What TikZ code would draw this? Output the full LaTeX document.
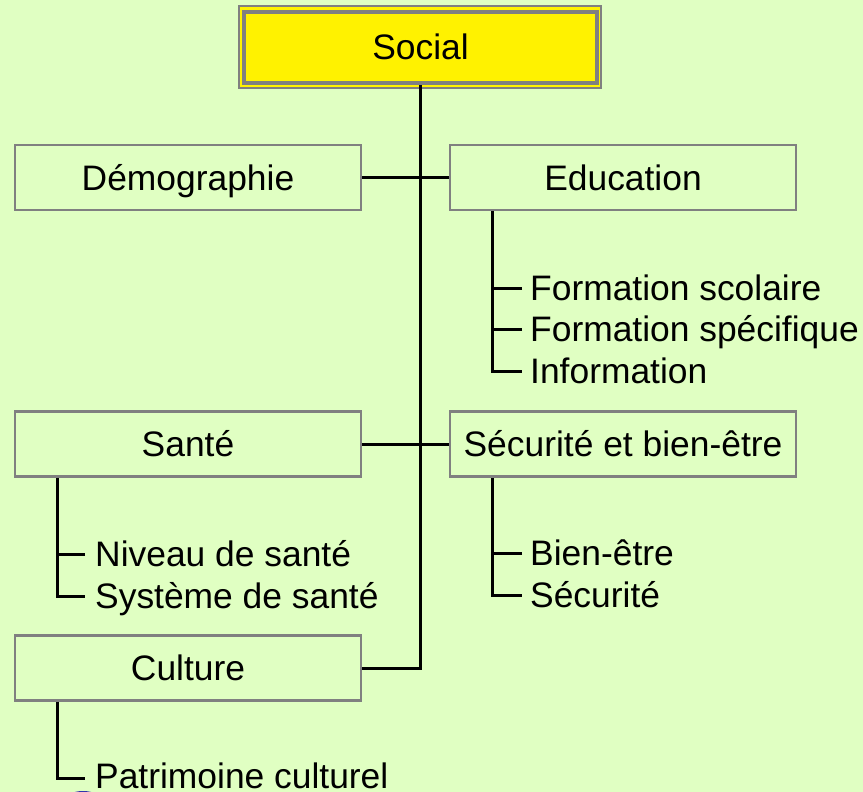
\documentclass[tikz,border=0pt]{standalone}
\usepackage{fontspec}
\setmainfont{Liberation Sans}
\definecolor{bg}{RGB}{224,255,194}
\definecolor{bord}{RGB}{128,128,128}
\newcommand\boxfont{\fontsize{35.4}{42}\selectfont}
\begin{document}
\begin{tikzpicture}[x=1pt,y=-1pt,
  box/.style={draw=bord,line width=2.5pt,minimum width=346pt,minimum height=65pt,inner sep=0pt,text height=25pt,text depth=0pt,font=\boxfont},
  item/.style={anchor=base west,inner sep=0pt,font=\boxfont},
  conn/.style={line width=3pt,black}]
\fill[bg] (0,0) rectangle (863,792);
\useasboundingbox (0,0) rectangle (863,792);
\clip (0,0) rectangle (863,792);
\fill[blue!60!black!80] (83,800) ellipse [x radius=18pt,y radius=9pt];
% root
\node[draw=bord,line width=1.5pt,fill=yellow,minimum width=362pt,minimum height=82pt,inner sep=0pt] (socout) at (420,47) {};
\node[draw=bord,line width=4.5pt,minimum width=353pt,minimum height=71pt,inner sep=0pt,text height=25pt,text depth=0pt,font=\boxfont] (social) at (420.5,47.5) {Social};
% boxes
\node[box] (demo) at (188,177.5) {Démographie};
\node[box] (edu) at (623,177.5) {Education};
\node[box] (sante) at (188,444) {Santé};
\node[box] (secu) at (623,444) {Sécurité et bien-être};
\node[box] (cult) at (188,668) {Culture};
% main connectors
\coordinate (cj) at (social.south |- cult.east);
\draw[conn] (social.south) -- (cj) -- (cult.east);
\draw[conn] (demo.east) -- (edu.west);
\draw[conn] (sante.east) -- (secu.west);
% items
\node[item] (fsc) at (530,300) {Formation scolaire};
\node[item] (fsp) at (530,341) {Formation spécifique};
\node[item] (inf) at (530,383) {Information};
\node[item] (niv) at (95,566) {Niveau de santé};
\node[item] (sys) at (95,608) {Système de santé};
\node[item] (bien) at (530,565) {Bien-être};
\node[item] (secur) at (530,607) {Sécurité};
\node[item] (patr) at (95,788) {Patrimoine culturel};
% item connectors
\coordinate (e0) at ([xshift=-131pt]edu.south);
\draw[conn] (e0) |- ([xshift=-8pt,yshift=12pt]inf.base west);
\draw[conn] ([xshift=-8pt,yshift=12pt]fsc.base west) -- ++(-30,0);
\draw[conn] ([xshift=-8pt,yshift=12pt]fsp.base west) -- ++(-30,0);
\coordinate (s0) at ([xshift=-131pt]sante.south);
\draw[conn] (s0) |- ([xshift=-10pt,yshift=12pt]sys.base west);
\draw[conn] ([xshift=-10pt,yshift=12pt]niv.base west) -- ++(-28,0);
\coordinate (b0) at ([xshift=-131pt]secu.south);
\draw[conn] (b0) |- ([xshift=-8pt,yshift=12pt]secur.base west);
\draw[conn] ([xshift=-8pt,yshift=12pt]bien.base west) -- ++(-30,0);
\coordinate (c0) at ([xshift=-131pt]cult.south);
\draw[conn] (c0) |- ([xshift=-10pt,yshift=10pt]patr.base west);
\end{tikzpicture}
\end{document}
